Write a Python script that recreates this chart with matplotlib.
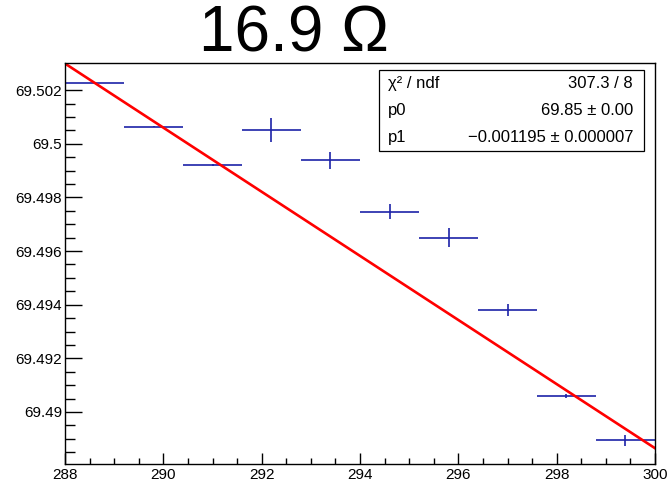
import numpy as np
import matplotlib
matplotlib.use('Agg')
import matplotlib.pyplot as plt
from matplotlib.ticker import MultipleLocator, FixedLocator, FuncFormatter
from matplotlib.patches import Rectangle

plt.rcParams['font.family'] = ['Liberation Sans', 'DejaVu Sans']

# data points (temperature bins vs value)
x = [288.6, 289.8, 291.0, 292.2, 293.4, 294.6, 295.8, 297.0, 298.2, 299.4]
y = [69.50227, 69.50064, 69.49921, 69.50052, 69.49938,
     69.49746, 69.49650, 69.49380, 69.49061, 69.48894]
xerr = [0.6] * 10
yerr = [0.00003, 0.00003, 0.00003, 0.00044, 0.00033,
        0.00028, 0.00036, 0.00023, 0.00007, 0.00022]

# linear fit
p0 = 69.84715
p1 = -0.001195
stat_names = ['\u03c7\u00b2 / ndf', 'p0', 'p1']
stat_vals = ['307.3 / 8', '69.85 \u00b1 0.00', '\u22120.001195 \u00b1 0.000007']

title = '16.9 \u03a9'

W, H = 667, 484
fig = plt.figure(figsize=(W / 100, H / 100), dpi=100)
ax = fig.add_axes([65 / W, 1 - 463.5 / H, (655 - 65) / W, (463.5 - 63) / H])

ax.errorbar(x, y, xerr=xerr, yerr=yerr, fmt='none', ecolor='#1c22a8',
            elinewidth=1.2, capsize=0)

xf = np.linspace(288.0, 300.0, 200)
ax.plot(xf, p0 + p1 * xf, color='#ff0000', lw=1.9)

ax.set_xlim(288, 300)
ax.set_ylim(69.48808, 69.50301)

ax.xaxis.set_major_locator(MultipleLocator(2))
ax.xaxis.set_minor_locator(MultipleLocator(0.5))
ax.yaxis.set_major_locator(MultipleLocator(0.002))
ax.yaxis.set_minor_locator(FixedLocator(np.arange(69.4885, 69.5021, 0.0005)))
ax.yaxis.set_major_formatter(FuncFormatter(lambda v, p: ('%.3f' % v).rstrip('0')))

ax.tick_params(axis='both', which='both', direction='in', top=False, right=False,
               labelsize=11, colors='black', width=1.0)
ax.tick_params(axis='y', which='major', length=12.5, pad=2)
ax.tick_params(axis='y', which='minor', length=7)
ax.tick_params(axis='x', which='major', length=8, pad=3)
ax.tick_params(axis='x', which='minor', length=4)
for s in ax.spines.values():
    s.set_linewidth(1.0)

# stats box
bx0, by0, bx1, by1 = 379, 70, 644, 151
fig.patches.append(Rectangle((bx0 / W, 1 - by1 / H), (bx1 - bx0) / W, (by1 - by0) / H,
                             transform=fig.transFigure, fill=True, facecolor='white',
                             edgecolor='black', lw=0.9, zorder=5))
rowh = (by1 - by0) / 3
for i in range(3):
    yc = 1 - (by0 + rowh * (i + 0.5)) / H
    fig.text(388 / W, yc, stat_names[i], ha='left', va='center', fontsize=12, zorder=6)
    fig.text(633 / W, yc, stat_vals[i], ha='right', va='center', fontsize=12, zorder=6)

fig.text(294 / W, 1 - 35 / H, title, ha='center', va='center', fontsize=46)

fig.savefig('out.png', dpi=100)
